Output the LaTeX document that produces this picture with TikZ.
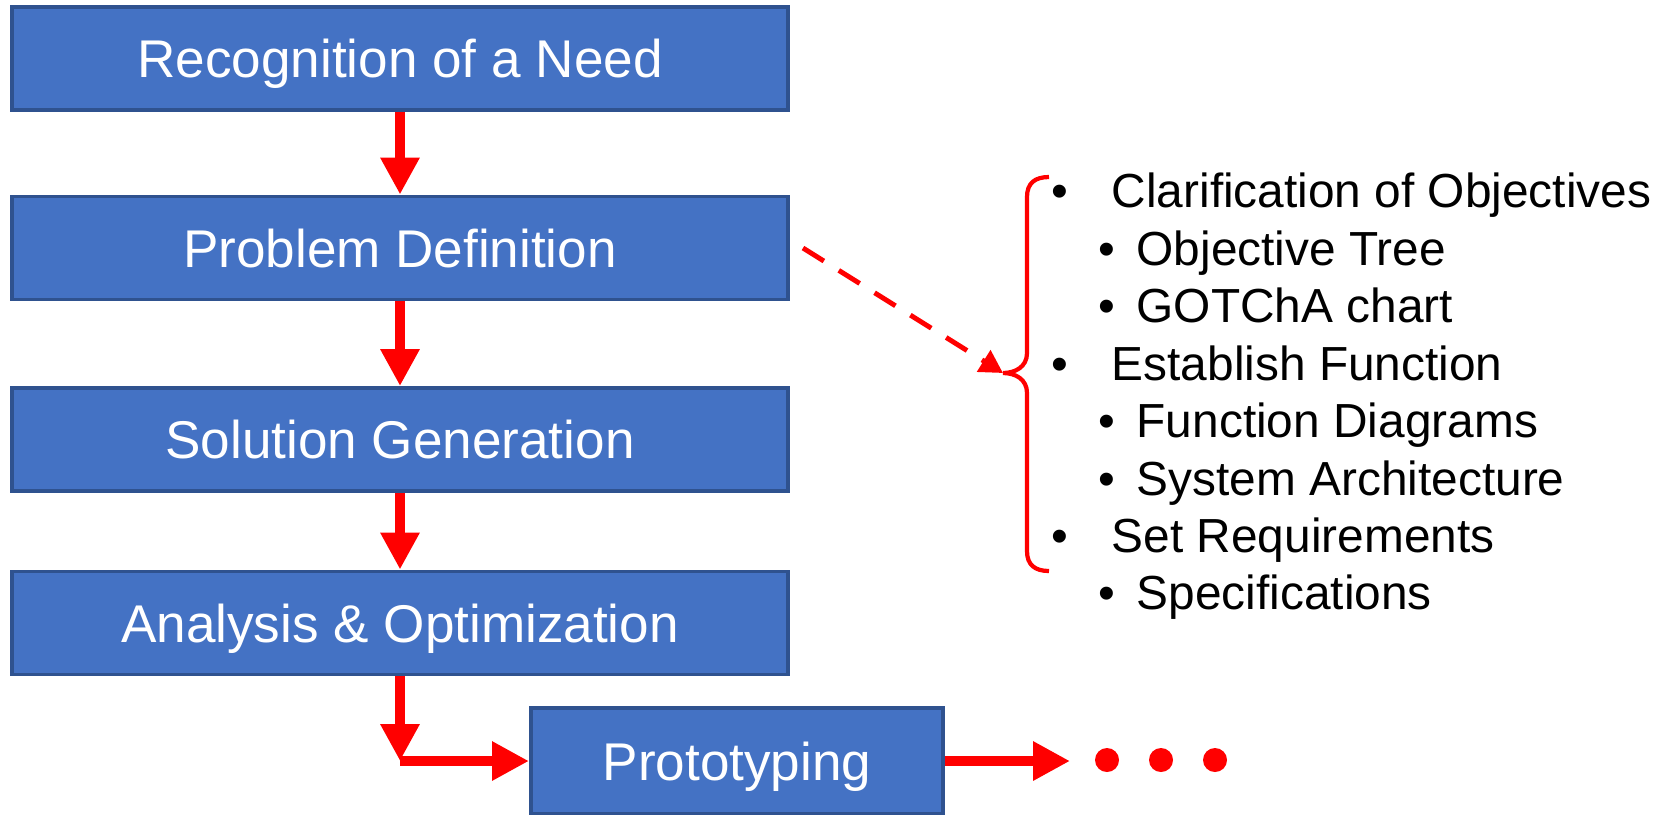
\documentclass[tikz,border=0pt]{standalone}
\usepackage{fontspec}
\setmainfont{Liberation Sans}
\usetikzlibrary{arrows.meta}
\definecolor{boxfill}{HTML}{4472C4}
\definecolor{boxline}{HTML}{2F528F}
\definecolor{arrred}{HTML}{FF0000}
\begin{document}
\begin{tikzpicture}[x=0.01cm,y=-0.01cm,
  stagebox/.style={draw=boxline, fill=boxfill, line width=1.1pt,
    minimum width=7.76cm, minimum height=1.03cm, inner sep=0pt,
    text=white, font=\fontsize{15.1}{18}\selectfont,
    text height=10.8pt, text depth=0pt},
  redarrow/.style={draw=arrred, line width=3pt,
    -{Triangle[width=10.5pt,length=10.5pt]}},
  dasharrow/.style={draw=arrred, line width=1.4pt, dash pattern=on 7pt off 5pt,
    -{Triangle[width=7pt,length=6.5pt]}},
  bracestyle/.style={draw=arrred, line width=1.2pt},
  reddot/.style={circle, fill=arrred, minimum size=0.24cm, inner sep=0pt},
  listtext/.style={anchor=base west, inner sep=0pt, font=\fontsize{13.6}{16}\selectfont},
  listbullet/.style={anchor=base, inner sep=0pt, font=\fontsize{13.6}{16}\selectfont}
]
\useasboundingbox (0,0) rectangle (1667,814);

\node[stagebox] (need) at (400,58.5) {Recognition of a Need};
\node[stagebox] (def) at (400,248) {Problem Definition};
\node[stagebox] (gen) at (400,439.5) {Solution Generation};
\node[stagebox] (ana) at (400,623) {Analysis \& Optimization};
\node[stagebox, minimum width=4.12cm, minimum height=1.06cm] (proto) at (737,761) {Prototyping};

\draw[redarrow] (need.south) -- (def.north);
\draw[redarrow] (def.south) -- (gen.north);
\draw[redarrow] (gen.south) -- (ana.north);
\coordinate (bend) at (ana.south |- proto.west);
\draw[redarrow] (ana.south) -- (bend);
\draw[redarrow] (bend) -- (proto.west);
\coordinate (tipR) at (1070,761);
\draw[redarrow] (proto.east) -- (tipR);

\node[reddot] (dot1) at (1107,760) {};
\node[reddot] (dot2) at (1161,760) {};
\node[reddot] (dot3) at (1215,760) {};

\coordinate (dashstart) at (803,248);
\coordinate (bracetip) at (1003,373);
\draw[dasharrow] (dashstart) -- (bracetip);

\draw[bracestyle] (1049,177) .. controls (1035,177) and (1027,183) .. (1027,197)
  -- (1027,353) .. controls (1027,367) and (1015,373) .. (bracetip)
  .. controls (1015,373) and (1027,379) .. (1027,393)
  -- (1027,551) .. controls (1027,565) and (1035,571) .. (1049,571);

\node[listbullet] (b1) at (1060,207) {•};
\node[listtext] (t1) at (1111,207) {Clarification of Objectives};
\node[listbullet] (b2) at (1107,265) {•};
\node[listtext] (t2) at (1136,265) {Objective Tree};
\node[listbullet] (b3) at (1107,322) {•};
\node[listtext] (t3) at (1136,322) {GOTChA chart};
\node[listbullet] (b4) at (1060,380) {•};
\node[listtext] (t4) at (1111,380) {Establish Function};
\node[listbullet] (b5) at (1107,437) {•};
\node[listtext] (t5) at (1136,437) {Function Diagrams};
\node[listbullet] (b6) at (1107,495) {•};
\node[listtext] (t6) at (1136,495) {System Architecture};
\node[listbullet] (b7) at (1060,552) {•};
\node[listtext] (t7) at (1111,552) {Set Requirements};
\node[listbullet] (b8) at (1107,609) {•};
\node[listtext] (t8) at (1136,609) {Specifications};
\end{tikzpicture}
\end{document}
